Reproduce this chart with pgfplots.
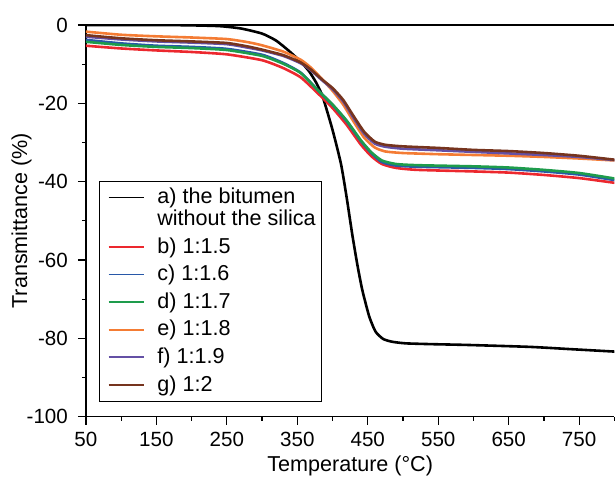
\documentclass[border=0pt]{standalone}
\usepackage{fontspec}
\setmainfont{Liberation Sans}
\usepackage{pgfplots}
\pgfplotsset{compat=1.18}
\definecolor{cRed}{RGB}{236,40,46}
\definecolor{cBlue}{RGB}{40,88,168}
\definecolor{cGreen}{RGB}{30,156,76}
\definecolor{cOrange}{RGB}{244,124,52}
\definecolor{cPurple}{RGB}{100,80,165}
\definecolor{cBrown}{RGB}{118,52,30}
\newcommand{\fs}{\fontsize{10.3}{10.5}\selectfont}
\newcommand{\fl}{\fontsize{10.8}{10.8}\selectfont}
% legend sample level with the first of two text lines
\pgfplotsset{twoline leg/.style={legend image code/.code={\path (0pt,-5.4pt) (0pt,5.4pt);
  \draw[##1, line width=0.9pt] (3pt,5.4pt) -- (20.5pt,5.4pt);}}}
\begin{document}
\begin{tikzpicture}
\begin{axis}[
  width=264.5pt, height=196pt, scale only axis,
  xmin=50, xmax=800, ymin=-100, ymax=0,
  axis x line*=box, axis y line*=left,
  xtick pos=left, ytick pos=left, tick align=outside,
  xtick={50,150,...,750}, minor xtick={100,200,...,800},
  ytick={-100,-80,...,0}, minor ytick={-90,-70,...,-10},
  xticklabels={50,150,250,350,450,550,650,750},
  yticklabels={-100,-80,-60,-40,-20,0},
  major tick length=4pt, minor tick length=2pt,
  every tick/.style={black, line width=0.6pt},
  axis line style={line width=0.6pt},
  tick label style={font=\fs},
  yticklabel style={xshift=-1.5pt},
  label style={font=\fl},
  xlabel={Temperature (°C)}, ylabel={Transmittance (\%)},
  xlabel style={at={(axis description cs:0.5,0)}, anchor=base, yshift=-27.3pt},
  ylabel style={at={(axis description cs:-0.122,0.5)}, anchor=center},
  legend cell align=left,
  legend style={at={(0.0246,0.038)}, anchor=south west, font=\fl,
    draw=black, line width=0.5pt, inner xsep=1pt, inner ysep=1.5pt,
    row sep=0.5pt, cells={align=left},
    /tikz/every odd column/.style={column sep=4.4pt}},
  legend image code/.code={\path (0pt,0pt); \draw[#1, line width=0.9pt] (3pt,0pt) -- (20.5pt,0pt);},
  every axis plot/.append style={line width=1.3pt, smooth, tension=0.35},
]
\addplot[black, twoline leg] coordinates {
(50,0) (150,0) (200,-0.1) (240,-0.3) (270,-0.9) (300,-2.2) (320,-4.0) (338,-6.6)
(355,-9.4) (367,-11.9) (377,-14.8) (386,-18.3) (400,-26.8) (412,-35.5) (420,-44)
(428,-53.5) (435,-61) (442,-67.5) (452,-74.4) (461,-78.3) (472,-80.2) (485,-80.9)
(504,-81.3) (540,-81.5) (590,-81.7) (680,-82.2) (740,-82.8) (800,-83.4)};
\addlegendentry{a) the bitumen\\without the silica}
\addplot[cRed] coordinates {
(50,-5.3) (100,-6.0) (150,-6.5) (200,-6.9) (250,-7.5) (300,-9.0) (330,-11.0)
(355,-13.4) (380,-17.6) (400,-21.2) (420,-25.5) (440,-30.5) (455,-33.5) (470,-35.5)
(490,-36.5) (520,-37.0) (600,-37.4) (650,-37.7) (700,-38.3) (750,-39.1) (800,-40.3)};
\addlegendentry{b) 1:1.5}
\addplot[cBlue] coordinates {
(50,-3.8) (100,-4.7) (150,-5.3) (200,-5.6) (250,-6.1) (300,-7.6) (330,-9.7)
(355,-12.2) (380,-16.8) (400,-20.4) (420,-24.6) (440,-29.6) (455,-32.7) (470,-35.0)
(490,-35.9) (520,-36.2) (600,-36.5) (650,-36.8) (700,-37.4) (750,-38.2) (800,-39.6)};
\addlegendentry{c) 1:1.6}
\addplot[cGreen] coordinates {
(50,-4.3) (100,-5.1) (150,-5.6) (200,-5.9) (250,-6.4) (300,-7.9) (330,-9.9)
(355,-12.3) (380,-16.8) (400,-20.3) (420,-24.4) (440,-29.4) (455,-32.5) (470,-34.6)
(490,-35.5) (520,-35.8) (600,-36.1) (650,-36.4) (700,-37.0) (750,-37.8) (800,-39.2)};
\addlegendentry{d) 1:1.7}
\addplot[cOrange] coordinates {
(50,-1.7) (100,-2.5) (150,-2.9) (200,-3.2) (250,-3.6) (280,-4.4) (300,-5.2) (330,-6.8)
(355,-8.9) (370,-11.0) (385,-13.8) (400,-16.8) (415,-20.3) (430,-24.7) (445,-28.8)
(460,-31.3) (475,-32.3) (500,-32.7) (550,-33.0) (600,-33.2) (650,-33.4) (700,-33.7)
(750,-34.1) (800,-34.6)};
\addlegendentry{e) 1:1.8}
\addplot[cPurple] coordinates {
(50,-3.0) (100,-3.7) (150,-4.2) (200,-4.5) (250,-4.9) (280,-5.8) (300,-6.5) (330,-7.9)
(355,-9.8) (370,-11.7) (385,-14.1) (400,-16.4) (415,-19.5) (430,-23.8) (445,-27.8)
(460,-30.3) (475,-31.1) (500,-31.6) (550,-32.0) (600,-32.4) (650,-32.8) (700,-33.2)
(750,-33.7) (800,-34.5)};
\addlegendentry{f) 1:1.9}
\addplot[cBrown] coordinates {
(50,-2.6) (100,-3.4) (150,-3.9) (200,-4.2) (250,-4.6) (280,-5.5) (300,-6.3) (330,-7.7)
(355,-9.6) (370,-11.5) (385,-13.9) (400,-16.1) (415,-19.1) (430,-23.3) (445,-27.3)
(460,-29.8) (475,-30.6) (500,-31.0) (550,-31.4) (600,-31.9) (650,-32.2) (700,-32.7)
(750,-33.4) (800,-34.4)};
\addlegendentry{g) 1:2}
\coordinate (o) at (rel axis cs:0,0);
\end{axis}
\path (o) ++(-43pt,-30.5pt) rectangle ++(307.5pt,239pt);
\end{tikzpicture}
\end{document}
